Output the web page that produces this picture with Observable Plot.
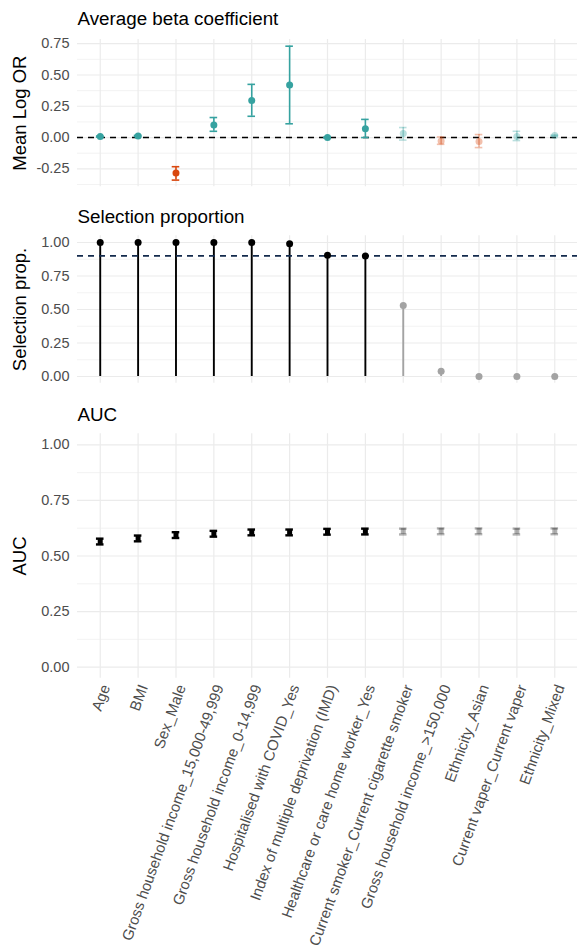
<!DOCTYPE html>
<html><head><meta charset="utf-8">
<script src="https://cdn.jsdelivr.net/npm/d3@7"></script>
<script src="https://cdn.jsdelivr.net/npm/@observablehq/plot@0.6"></script>
<style>
body{margin:0;background:#fff;}
#wrap{position:relative;width:577px;height:947px;font-family:"Liberation Sans",Arial,sans-serif;}
#wrap svg{position:absolute;left:0;overflow:visible;}
</style></head><body><div id="wrap"></div>
<script>
// ---------- data ----------
const categories = [
  "Age", "BMI", "Sex_Male",
  "Gross household income_15,000-49,999",
  "Gross household income_0-14,999",
  "Hospitalised with COVID_Yes",
  "Index of multiple deprivation (IMD)",
  "Healthcare or care home worker_Yes",
  "Current smoker_Current cigarette smoker",
  "Gross household income_>150,000",
  "Ethnicity_Asian",
  "Current vaper_Current vaper",
  "Ethnicity_Mixed"
];
const betaMean = [0.008, 0.013, -0.284, 0.100, 0.297, 0.420, 0.000, 0.070, 0.032, -0.027, -0.032, 0.008, 0.016];
const betaLo   = [0.004, 0.009, -0.340, 0.050, 0.170, 0.110, -0.003, 0.000, -0.020, -0.054, -0.080, -0.024, 0.012];
const betaHi   = [0.012, 0.017, -0.233, 0.160, 0.425, 0.730, 0.003, 0.145, 0.080, 0.005, 0.024, 0.050, 0.020];
const selProp  = [1.00, 1.00, 1.00, 1.00, 1.00, 0.99, 0.905, 0.90, 0.53, 0.04, 0.00, 0.00, 0.00];
const selThreshold = 0.9;
const aucMean  = [0.565, 0.579, 0.594, 0.600, 0.606, 0.606, 0.609, 0.610, 0.610, 0.611, 0.611, 0.610, 0.611];
const aucLo    = [0.552, 0.566, 0.581, 0.587, 0.593, 0.593, 0.596, 0.597, 0.597, 0.598, 0.598, 0.597, 0.598];
const aucHi    = [0.578, 0.592, 0.607, 0.613, 0.619, 0.619, 0.622, 0.623, 0.623, 0.624, 0.624, 0.623, 0.624];
const betaTicks = [-0.25, 0, 0.25, 0.5, 0.75];
const propTicks = [0, 0.25, 0.5, 0.75, 1];
const aucTicks  = [0, 0.25, 0.5, 0.75, 1];
const panelTitles = ["Average beta coefficient", "Selection proportion", "AUC"];
const yTitles = ["Mean Log OR", "Selection prop.", "AUC"];

// ---------- styling ----------
const TEAL = "#36A2A0", ORANGE = "#D9480F";
const GRID = "#EBEBEB", TICKTXT = "#4D4D4D";
const W = 577, ML = 77, MR = 0;
const rows = categories.map((c, i) => ({
  cat: c, mean: betaMean[i], lo: betaLo[i], hi: betaHi[i],
  sel: selProp[i], selected: selProp[i] >= selThreshold,
  auc: aucMean[i], aucLo: aucLo[i], aucHi: aucHi[i]
}));
const selRows = rows.filter(d => d.selected), unselRows = rows.filter(d => !d.selected);
const betaColor = d => d.mean >= 0 ? TEAL : ORANGE;

function expand(lo, hi) { const r = hi - lo; return [lo - 0.05 * r, hi + 0.05 * r]; }
function minors(ticks, dom) {
  const out = []; const s = ticks[1] - ticks[0];
  for (let v = ticks[0] - s / 2; v <= dom[1]; v += s) if (v >= dom[0]) out.push(v);
  return out;
}
const xScale = {type: "band", domain: categories, paddingInner: 0.8, paddingOuter: 0.5, align: 0.5, round: false};

function panel({top, height, mTop, mBottom, domain, ticks, marks, title, titleBase, ytitle}) {
  const svg = Plot.plot({
    width: W, height, marginLeft: ML, marginRight: MR, marginTop: mTop, marginBottom: mBottom,
    style: {fontFamily: '"Liberation Sans", Arial, sans-serif', background: "transparent", overflow: "visible"},
    x: {...xScale, axis: null},
    y: {domain, axis: null},
    marks: [
      Plot.ruleY(minors(ticks, domain), {stroke: GRID, strokeWidth: 0.6}),
      Plot.ruleY(ticks, {stroke: GRID, strokeWidth: 1.2}),
      Plot.ruleX(categories, {x: d => d, stroke: GRID, strokeWidth: 1.2}),
      Plot.axisY(ticks, {tickSize: 0, tickPadding: 8, fontSize: 14.5, fill: TICKTXT, label: null,
        tickFormat: d => d.toFixed(2)}),
      ...marks,
      Plot.text([title], {frameAnchor: "top-left", text: d => d, textAnchor: "start", lineAnchor: "bottom",
        dy: titleBase - mTop, fontSize: 18.8, fill: "black"}),
      Plot.text([ytitle], {frameAnchor: "left", text: d => d, rotate: -90, textAnchor: "middle", lineAnchor: "middle",
        dx: 20 - ML, fontSize: 18.5, fill: "black"})
    ]
  });
  svg.style.top = top + "px";
  document.getElementById("wrap").appendChild(svg);
}

// Panel 1: average beta coefficient
const bDom = expand(d3.min(betaLo), d3.max(betaHi));
const betaMarks = (data, op) => [
  Plot.ruleX(data, {x: "cat", y1: "lo", y2: "hi", stroke: betaColor, strokeOpacity: op, strokeWidth: 1.6}),
  Plot.tickY(data, {x: "cat", y: "lo", stroke: betaColor, strokeOpacity: op, strokeWidth: 1.6}),
  Plot.tickY(data, {x: "cat", y: "hi", stroke: betaColor, strokeOpacity: op, strokeWidth: 1.6}),
  Plot.dot(data, {x: "cat", y: "mean", fill: betaColor, fillOpacity: op, r: 3.5})
];
panel({
  top: 0, height: 192, mTop: 39, mBottom: 192 - 186.3, domain: bDom, ticks: betaTicks,
  title: panelTitles[0], titleBase: 24, ytitle: yTitles[0],
  marks: [
    Plot.ruleY([0], {stroke: "black", strokeDasharray: "6,5", strokeWidth: 1.5}),
    ...betaMarks(selRows, 1),
    ...betaMarks(unselRows, 0.35)
  ]
});

// Panel 2: selection proportion
const pDom = expand(0, 1);
panel({
  top: 195, height: 190, mTop: 40.3, mBottom: 2.3, domain: pDom, ticks: propTicks,
  title: panelTitles[1], titleBase: 27, ytitle: yTitles[1],
  marks: [
    Plot.ruleX(rows, {x: "cat", y1: 0, y2: "sel", stroke: d => d.selected ? "black" : "#A3A3A3", strokeWidth: 1.9}),
    Plot.ruleY([selThreshold], {stroke: "#132A4C", strokeDasharray: "6,5", strokeWidth: 1.6}),
    Plot.dot(rows, {x: "cat", y: "sel", fill: d => d.selected ? "black" : "#A3A3A3", r: 3.5})
  ]
});

// Panel 3: AUC
const aDom = expand(0, 1);
const aucMarks = (data, op) => [
  Plot.ruleX(data, {x: "cat", y1: "aucLo", y2: "aucHi", stroke: "black", strokeOpacity: op, strokeWidth: 5}),
  Plot.tickY(data, {x: "cat", y: "aucLo", stroke: "black", strokeOpacity: op, strokeWidth: 2.4}),
  Plot.tickY(data, {x: "cat", y: "aucHi", stroke: "black", strokeOpacity: op, strokeWidth: 2.4})
];
panel({
  top: 395, height: 552, mTop: 38.2, mBottom: 269.2, domain: aDom, ticks: aucTicks,
  title: panelTitles[2], titleBase: 25, ytitle: yTitles[2],
  marks: [
    ...aucMarks(selRows, 1),
    ...aucMarks(unselRows, 0.3),
    Plot.text(rows, {x: "cat", frameAnchor: "bottom", text: "cat", rotate: -70, textAnchor: "end",
      lineAnchor: "top", dy: 5, fontSize: 15, fill: TICKTXT})
  ]
});
</script></body></html>
